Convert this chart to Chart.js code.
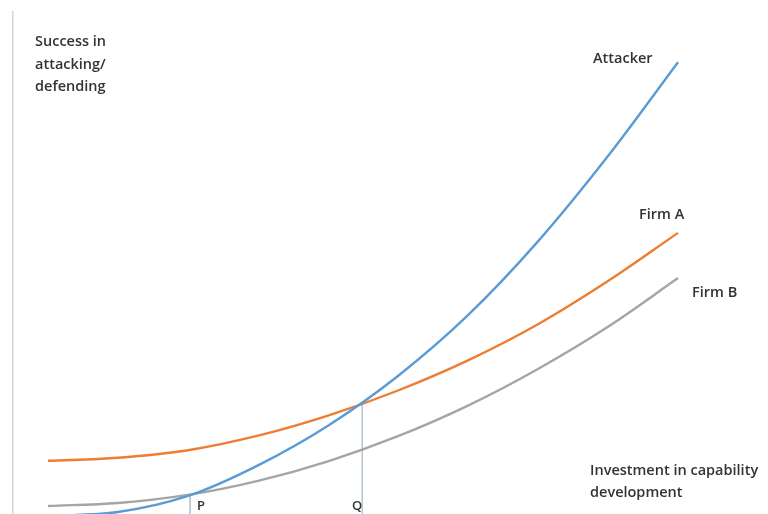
<!DOCTYPE html>
<html>
<head>
<meta charset="utf-8">
<script src="https://cdn.jsdelivr.net/npm/chart.js@4.4.1/dist/chart.umd.min.js"></script>
<style>
  html, body { margin: 0; padding: 0; background: #fff; }
  #wrap { width: 768px; height: 514px; }
</style>
</head>
<body>
<div id="wrap"><canvas id="chart"></canvas></div>
<script>
// investment steps (x) and success levels (y)
const steps = [0, 1, 2, 3, 4, 5, 6, 7, 8, 9];
const attacker = [-0.4, 0.4, 3.6, 9.7, 17.6, 27.5, 39.6, 54.3, 71.3, 90.0];
const firmA = [10.6, 11.2, 12.7, 15.6, 19.6, 24.6, 30.6, 37.8, 46.4, 56.0];
const firmB = [1.6, 2.2, 3.8, 6.6, 10.5, 15.5, 21.6, 28.9, 37.3, 47.0];

// crossing points P and Q
const markNames = ["P", "Q"];
const markX = [2.03, 4.49];
const markY = [3.8, 22.1];

function toPoints(values) {
  return steps.map((s, i) => ({ x: s, y: values[i] }));
}

function markerLine(i) {
  return {
    label: markNames[i],
    data: [{ x: markX[i], y: markY[i] }, { x: markX[i], y: -5 }],
    borderColor: "#b4c6d2",
    borderWidth: 1,
    pointRadius: 0,
    tension: 0,
  };
}

// text labels drawn on top of the chart
const textLabels = {
  id: "textLabels",
  afterDraw(chart) {
    const ctx = chart.ctx;
    ctx.save();
    ctx.fillStyle = "#333333";
    ctx.font = "600 14.5px 'Open Sans'";
    ctx.textBaseline = "middle";
    ctx.fillText("Success in", 35, 42);
    ctx.fillText("attacking/", 35, 65);
    ctx.fillText("defending", 35, 87);
    ctx.fillText("Attacker", 593, 59);
    ctx.fillText("Firm A", 639, 215);
    ctx.fillText("Firm B", 692, 293);
    ctx.fillText("Investment in capability", 590, 471);
    ctx.fillText("development", 590, 493);
    ctx.font = "600 13px 'Open Sans'";
    ctx.fillText("P", 197, 506);
    ctx.fillText("Q", 352, 506);
    ctx.restore();
  },
};

new Chart(document.getElementById("chart"), {
  type: "line",
  plugins: [textLabels],
  data: {
    datasets: [
      {
        label: "Attacker",
        data: toPoints(attacker),
        borderColor: "#5b9bd5",
      },
      {
        label: "Firm A",
        data: toPoints(firmA),
        borderColor: "#ed7d31",
      },
      {
        label: "Firm B",
        data: toPoints(firmB),
        borderColor: "#a5a5a5",
      },
      markerLine(0),
      markerLine(1),
    ],
  },
  options: {
    responsive: true,
    maintainAspectRatio: false,
    animation: false,
    layout: { padding: { left: 13, top: 12, right: 0, bottom: 0 } },
    elements: {
      line: { borderWidth: 2.4, tension: 0.35 },
      point: { radius: 0 },
    },
    scales: {
      x: {
        type: "linear",
        min: -0.5,
        max: 10.286,
        display: false,
      },
      y: {
        min: 0,
        max: 100,
        display: true,
        grid: { display: false, drawTicks: false },
        ticks: { display: false },
        border: { display: true, color: "#d6d6d6", width: 1.5 },
      },
    },
    plugins: {
      legend: { display: false },
      tooltip: { enabled: false },
    },
  },
});
</script>
</body>
</html>
